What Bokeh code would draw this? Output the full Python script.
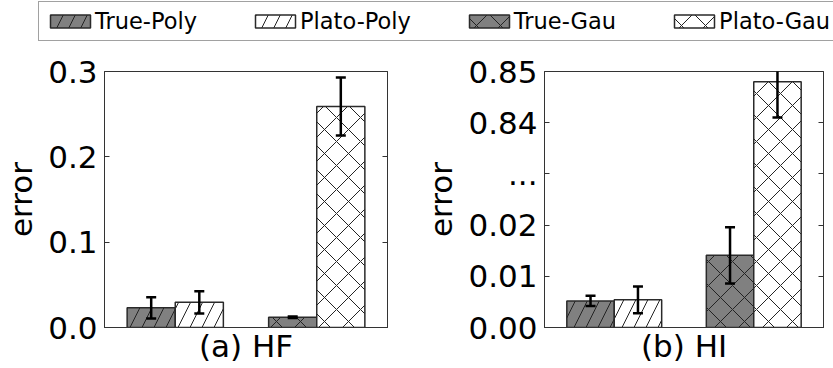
from bokeh.plotting import figure
from bokeh.models import (Range1d, FixedTicker, LinearAxis, Legend, LegendItem,
                          NumeralTickFormatter, CustomLabelingPolicy)
from bokeh.layouts import column, row
from bokeh.embed import file_html
from bokeh.resources import INLINE

# ---- data -------------------------------------------------------------
kernels = ["Poly", "Gau"]
series = ["True", "Plato"]

hf_true = [0.023, 0.012]
hf_true_err = [0.0125, 0.001]
hf_plato = [0.0295, 0.259]
hf_plato_err = [0.013, 0.034]

hi_true = [0.0052, 0.0141]
hi_true_err = [0.001, 0.0055]
hi_plato = [0.0054, 0.848]
hi_plato_err = [0.0026, 0.007]

hf_ticks = [0.0, 0.1, 0.2, 0.3]
hi_tick_labels = ["0.00", "0.01", "0.02", "...", "0.84", "0.85"]

# ---- styling ----------------------------------------------------------
FONT = "DejaVu Sans"
TICK_SIZE = "31px"
LABEL_SIZE = "31px"
EDGE = "#2a2a2a"
AXIS = "#333333"
FILL = {"True": "#808080", "Plato": "#ffffff"}
HATCH = {"Poly": "/", "Gau": "x"}
BAR_W = 0.34
OFFSET = {"True": -BAR_W / 2, "Plato": BAR_W / 2}

# hides every tick label of the mirrored right-hand axis
NO_LABELS = CustomLabelingPolicy(code="return new Set()")


def broken(v):
    """Map a value onto the broken HI axis: 0-0.02 below the gap, 0.84-0.85 above."""
    if v <= 0.05:
        return v * 100.0
    return (v - 0.84) * 100.0 + 4.0


def bar_style(s, k):
    return dict(fill_color=FILL[s], line_color=EDGE, line_width=1.5,
                hatch_pattern=HATCH[k], hatch_color="#222222",
                hatch_weight=1, hatch_scale=24)


def make_panel(title, vals, errs, ymax, width, border_left, border_right,
               mapper=None):
    p = figure(width=width, height=323, x_range=Range1d(-0.5, 1.5),
               y_range=Range1d(0, ymax), toolbar_location=None,
               output_backend="svg", min_border_left=border_left,
               min_border_right=border_right, min_border_top=26,
               min_border_bottom=41)
    p.grid.visible = False
    p.outline_line_color = AXIS
    p.outline_line_width = 1
    p.background_fill_color = "white"
    p.border_fill_color = "white"

    f = mapper if mapper else (lambda v: v)
    for s in series:
        for k_i, k in enumerate(kernels):
            v = vals[s][k_i]
            x = k_i + OFFSET[s]
            p.vbar(x=[x], top=[f(v)], bottom=0, width=BAR_W, **bar_style(s, k))
        xs = [k_i + OFFSET[s] for k_i in range(len(kernels))]
        lo = [f(vals[s][i] - errs[s][i]) for i in range(len(kernels))]
        hi = [f(vals[s][i] + errs[s][i]) for i in range(len(kernels))]
        p.segment(x0=xs, y0=lo, x1=xs, y1=hi, line_color="black", line_width=2.5)
        p.scatter(x=xs + xs, y=lo + hi, marker="dash", size=10,
                  line_color="black", line_width=2.5)

    xa = p.xaxis[0]
    xa.ticker = FixedTicker(ticks=[])
    xa.axis_label = title
    xa.axis_label_text_font = FONT
    xa.axis_label_text_font_size = LABEL_SIZE
    xa.axis_label_text_font_style = "normal"
    xa.axis_label_text_color = "black"
    xa.axis_label_standoff = 0
    xa.axis_line_color = AXIS
    xa.major_tick_line_color = None
    xa.minor_tick_line_color = None

    ya = p.yaxis[0]
    ya.axis_label = "error"
    ya.axis_label_text_font = FONT
    ya.axis_label_text_font_size = LABEL_SIZE
    ya.axis_label_text_font_style = "normal"
    ya.axis_label_text_color = "black"
    ya.axis_label_standoff = 6
    ya.major_label_text_font = FONT
    ya.major_label_text_font_size = TICK_SIZE
    ya.major_label_text_color = "black"
    ya.major_label_standoff = 7
    ya.major_tick_in = 5
    ya.major_tick_out = 0
    ya.minor_tick_line_color = None
    ya.axis_line_color = AXIS
    ya.major_tick_line_color = AXIS

    ra = LinearAxis(major_label_policy=NO_LABELS, major_tick_in=5,
                    major_tick_out=0, minor_tick_line_color=None,
                    axis_line_color=AXIS, major_tick_line_color=AXIS,
                    major_label_standoff=0)
    p.add_layout(ra, "right")
    return p, ya, ra


hf, hf_ya, hf_ra = make_panel(
    "(a) HF",
    {"True": hf_true, "Plato": hf_plato},
    {"True": hf_true_err, "Plato": hf_plato_err},
    0.3, 420, 104, 33)
hf_ya.ticker = FixedTicker(ticks=hf_ticks)
hf_ra.ticker = FixedTicker(ticks=hf_ticks)
hf_ya.formatter = NumeralTickFormatter(format="0.0")

hi, hi_ya, hi_ra = make_panel(
    "(b) HI",
    {"True": hi_true, "Plato": hi_plato},
    {"True": hi_true_err, "Plato": hi_plato_err},
    5, 413, 120, 10, mapper=broken)
hi_pos = list(range(len(hi_tick_labels)))
hi_ya.ticker = FixedTicker(ticks=hi_pos)
hi_ra.ticker = FixedTicker(ticks=hi_pos)
hi_ya.major_label_overrides = {i: t for i, t in zip(hi_pos, hi_tick_labels)}

# ---- shared legend strip ----------------------------------------------
# the proxy bars sit outside the strip's y range, so only their legend
# swatches are drawn
lf = figure(width=833, height=45, x_range=Range1d(0, 1), y_range=Range1d(1, 2),
            toolbar_location=None, output_backend="svg", x_axis_type=None,
            y_axis_type=None, min_border_left=0, min_border_right=0,
            min_border_top=0, min_border_bottom=0)
lf.grid.visible = False
lf.outline_line_color = None
items = []
for k in kernels:
    for s in series:
        r = lf.vbar(x=[0], top=[0], bottom=0, width=0, **bar_style(s, k))
        items.append(LegendItem(label=f"{s}-{k}", renderers=[r]))
leg = Legend(items=items, orientation="horizontal", location=(38, 4),
             label_text_font=FONT, label_text_font_size="22.5px",
             label_text_color="black",
             glyph_width=50, glyph_height=16, label_standoff=0, spacing=53,
             padding=6, margin=0, border_line_color="#444444",
             border_line_width=1, background_fill_color="white",
             background_fill_alpha=1.0)
lf.add_layout(leg)

layout = column(lf, row(hf, hi, spacing=0), spacing=0)
open("out.html", "w").write(file_html(layout, INLINE))
